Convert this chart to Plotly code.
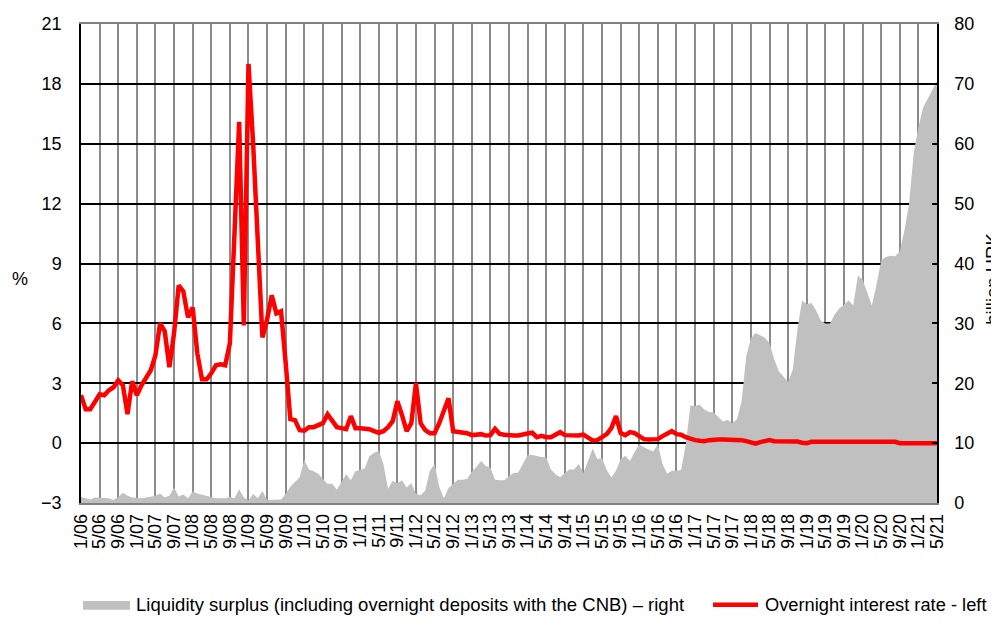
import plotly.graph_objects as go

# Monthly categories Jan 2006 .. May 2021
months = [f"{m}/{y:02d}" for y in range(6, 22) for m in range(1, 13)][:185]

tick_labels = ["1/06", "5/06", "9/06", "1/07", "5/07", "9/07", "1/08", "5/08", "9/08",
               "1/09", "5/09", "9/09", "1/10", "5/10", "9/10", "1/11", "5/11", "9/11",
               "1/12", "5/12", "9/12", "1/13", "5/13", "9/13", "1/14", "5/14", "9/14",
               "1/15", "5/15", "9/15", "1/16", "5/16", "9/16", "1/17", "5/17", "9/17",
               "1/18", "5/18", "9/18", "1/19", "5/19", "9/19", "1/20", "5/20", "9/20",
               "1/21", "5/21"]

# Overnight interest rate (%), left axis
overnight_rate = [
    2.4, 1.7, 1.7, 2.1, 2.45, 2.4, 2.65, 2.8, 3.15, 2.9, 1.45, 3.1,      # 2006
    2.4, 2.9, 3.3, 3.65, 4.4, 6.0, 5.6, 3.8, 5.5, 7.9, 7.6, 6.3,         # 2007
    6.8, 4.5, 3.2, 3.2, 3.5, 3.9, 3.95, 3.9, 5.0, 10.5, 16.1, 5.9,       # 2008
    19.0, 15.0, 9.5, 5.3, 6.2, 7.4, 6.5, 6.6, 4.0, 1.2, 1.15, 0.65,      # 2009
    0.62, 0.8, 0.8, 0.9, 1.0, 1.45, 1.1, 0.8, 0.75, 0.7, 1.35, 0.75,     # 2010
    0.75, 0.75, 0.7, 0.6, 0.52, 0.6, 0.8, 1.1, 2.1, 1.4, 0.6, 1.0,       # 2011
    3.0, 1.0, 0.65, 0.5, 0.5, 1.0, 1.6, 2.25, 0.6, 0.58, 0.55, 0.5,      # 2012
    0.4, 0.45, 0.45, 0.38, 0.4, 0.72, 0.46, 0.42, 0.38, 0.38, 0.38, 0.45,  # 2013
    0.48, 0.52, 0.3, 0.36, 0.3, 0.3, 0.45, 0.55, 0.4, 0.38, 0.38, 0.38,  # 2014
    0.43, 0.3, 0.13, 0.15, 0.3, 0.45, 0.75, 1.35, 0.5, 0.4, 0.55, 0.5,   # 2015
    0.35, 0.2, 0.18, 0.18, 0.2, 0.35, 0.5, 0.6, 0.45, 0.42, 0.3, 0.2,    # 2016
    0.15, 0.12, 0.1, 0.15, 0.18, 0.18, 0.18, 0.18, 0.18, 0.18, 0.15, 0.1,  # 2017
    0.05, -0.03, 0.05, 0.1, 0.15, 0.1, 0.1, 0.1, 0.1, 0.1, 0.08, 0.02,   # 2018
    0.0, 0.07, 0.07, 0.07, 0.07, 0.07, 0.07, 0.07, 0.07, 0.07, 0.03, 0.07,  # 2019
    0.07, 0.07, 0.07, 0.07, 0.07, 0.07, 0.07, 0.07, 0.0, 0.0, 0.0, 0.0,  # 2020
    0.0, 0.0, 0.0, 0.0, 0.0,                                             # 2021
]

# Liquidity surplus (billion HRK), right axis
liquidity = [
    1.0, 0.8, 0.6, 0.9, 0.9, 0.8, 0.8, 0.5, 1.0, 1.7, 1.2, 0.9,          # 2006
    0.8, 0.8, 0.9, 1.0, 1.2, 1.6, 0.9, 1.2, 2.6, 1.1, 1.4, 0.8,          # 2007
    1.9, 1.6, 1.4, 1.2, 1.0, 0.8, 0.8, 0.8, 1.0, 0.8, 2.3, 0.9,          # 2008
    0.4, 1.5, 0.8, 2.0, 0.5, 0.5, 0.5, 0.6, 1.5, 2.7, 3.5, 4.3,          # 2009
    7.2, 5.6, 5.3, 4.9, 4.0, 3.2, 3.2, 2.2, 3.5, 4.8, 3.8, 5.3,          # 2010
    5.5, 5.8, 7.8, 8.4, 8.7, 6.5, 2.4, 3.7, 3.3, 3.8, 2.6, 3.3,          # 2011
    1.5, 1.3, 2.1, 5.4, 6.5, 2.7, 0.8, 2.5, 3.2, 3.9, 3.9, 4.0,          # 2012
    5.2, 6.0, 7.0, 6.2, 5.9, 3.9, 3.8, 3.8, 4.5, 5.0, 5.1, 6.5,          # 2013
    8.0, 8.0, 7.8, 7.7, 7.6, 5.6, 4.8, 4.3, 5.0, 5.6, 5.6, 6.5,          # 2014
    5.0, 7.2, 9.1, 7.3, 7.5, 5.5, 4.3, 5.4, 7.3, 7.9, 7.0, 8.5,          # 2015
    9.8, 9.3, 8.9, 8.6, 9.8, 6.5, 4.9, 5.4, 5.4, 5.5, 9.8, 16.3,         # 2016
    16.2, 16.4, 15.6, 15.2, 15.1, 14.3, 13.6, 13.9, 13.3, 14.0, 17.0, 24.5,  # 2017
    27.5, 28.4, 28.0, 27.6, 26.7, 24.0, 22.0, 21.0, 20.2, 22.3, 29.0, 33.8,  # 2018
    33.2, 33.4, 32.2, 30.5, 30.0, 30.0, 31.5, 32.5, 33.2, 33.8, 33.0, 38.0,  # 2019
    37.3, 35.0, 33.0, 36.5, 40.5, 41.1, 41.3, 41.2, 42.0, 45.5, 50.0, 58.5,  # 2020
    62.7, 66.0, 67.5, 68.8, 70.5,                                        # 2021
]

left_ticks = [-3, 0, 3, 6, 9, 12, 15, 18, 21]
right_ticks = [0, 10, 20, 30, 40, 50, 60, 70, 80]

legend_area = "Liquidity surplus (including overnight deposits with the CNB) – right"
legend_line = "Overnight interest rate - left"

FONT = "Liberation Sans, Arial, sans-serif"

fig = go.Figure()
# Area on primary (right-side) axis so it is drawn beneath the line
fig.add_trace(go.Scatter(
    x=months, y=liquidity, yaxis="y", mode="lines", fill="tozeroy",
    fillcolor="#C0C0C0", line=dict(width=0, color="#C0C0C0"),
    name=legend_area, showlegend=False, hoverinfo="skip"))
fig.add_trace(go.Scatter(
    x=months, y=overnight_rate, yaxis="y2", mode="lines",
    line=dict(color="#FF0000", width=4.5), name=legend_line, showlegend=False))

# page body has an 8px margin; the figure is sized to fit inside the window
OFF = 8
W_PLOT, H_PLOT, L, T = 856, 489, 81, 14   # plot area in window pixels


def px(xp):
    return (xp - L) / W_PLOT


def py(yp):
    return (T + H_PLOT - yp) / H_PLOT


shapes = [
    dict(type="rect", xref="paper", yref="paper", x0=px(83), x1=px(130), y0=py(612), y1=py(603),
         fillcolor="#C0C0C0", line=dict(width=0)),
    dict(type="line", xref="paper", yref="paper", x0=px(713), x1=px(758), y0=py(607), y1=py(607),
         line=dict(color="#FF0000", width=4.5)),
]
annotations = [
    dict(xref="paper", yref="paper", x=px(134), y=py(607), xanchor="left", yanchor="middle",
         text=legend_area, showarrow=False, font=dict(family=FONT, size=18.5, color="black")),
    dict(xref="paper", yref="paper", x=px(763), y=py(607), xanchor="left", yanchor="middle",
         text=legend_line, showarrow=False, font=dict(family=FONT, size=18.3, color="black")),
    dict(xref="paper", yref="paper", x=px(20), y=py(274), xanchor="center", yanchor="middle",
         text="%", showarrow=False, font=dict(family=FONT, size=18, color="black")),
    dict(xref="paper", yref="paper", x=px(993), y=py(274), xanchor="center", yanchor="middle",
         text="billion HRK", textangle=-90, showarrow=False,
         font=dict(family=FONT, size=18.5, color="black")),
]

FIG_W, FIG_H = 999 - OFF, 622 - OFF
fig.update_layout(
    width=FIG_W, height=FIG_H, autosize=False,
    margin=dict(l=L - OFF, r=FIG_W - (L + W_PLOT - OFF), t=T - OFF,
                b=FIG_H - (T + H_PLOT - OFF), pad=0),
    paper_bgcolor="white", plot_bgcolor="white",
    font=dict(family=FONT, size=18, color="black"),
    showlegend=False,
    shapes=shapes, annotations=annotations,
    xaxis=dict(
        type="category", range=[0, 184],
        tickmode="array", tickvals=tick_labels, ticktext=tick_labels,
        tickangle=-90, ticks="", ticklabelstandoff=2,
        tickfont=dict(family=FONT, size=18, color="black"),
        showgrid=True, gridcolor="#8C8C8C", gridwidth=1.5,
        showline=True, linecolor="#808080", linewidth=1.5, mirror=True,
        zeroline=False,
    ),
    yaxis=dict(
        side="right", range=[0, 80], tickmode="array", tickvals=right_ticks,
        ticks="inside", ticklen=5, tickcolor="black", tickwidth=1.5,
        ticklabelstandoff=12, ticklabeloverflow="allow",
        tickfont=dict(family=FONT, size=18, color="black"),
        showgrid=False, zeroline=False,
        showline=True, linecolor="black", linewidth=1.5,
    ),
    yaxis2=dict(
        side="left", overlaying="y", range=[-3, 21], tickmode="array", tickvals=left_ticks,
        ticks="", ticklabelstandoff=14, ticklabeloverflow="allow",
        tickfont=dict(family=FONT, size=18, color="black"),
        showgrid=True, gridcolor="black", gridwidth=1.5, zeroline=False,
        showline=True, linecolor="black", linewidth=1.5,
    ),
)

fig.write_html("out.html")
